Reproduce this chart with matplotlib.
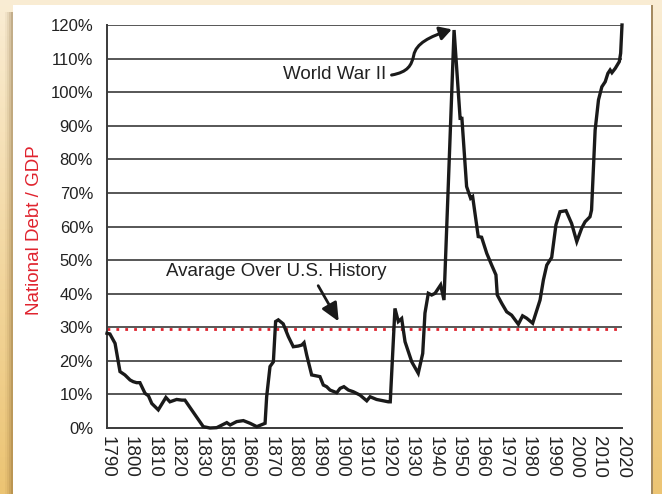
import numpy as np
import matplotlib
matplotlib.use("Agg")
import matplotlib.pyplot as plt
from matplotlib.patches import Rectangle, FancyArrowPatch
from matplotlib.path import Path

plt.rcParams['font.family'] = ['Liberation Sans', 'DejaVu Sans']

years = [1790, 1791.3, 1793.6, 1795.8, 1798, 1800.3, 1801.7, 1803.2, 1804.7, 1807,
         1808.5, 1810, 1812.9, 1816.3, 1818.1, 1821.1, 1823.4, 1824.8, 1827.8, 1833,
         1836, 1839, 1843.5, 1845, 1847.9, 1850.9, 1853.9, 1856.9, 1860.6, 1861.3,
         1862.8, 1864.3, 1865.3, 1866.5, 1868.7, 1871, 1873.2, 1875.4, 1877, 1878,
         1879.2, 1881.4, 1885.1, 1886.6, 1888.1, 1889.6, 1892.6, 1894.1, 1895.8, 1897.8,
         1900, 1903, 1906, 1907.5, 1910.4, 1913.4, 1915.6, 1916.5, 1918.6, 1920.1,
         1921.6, 1923.1, 1926.1, 1929, 1931, 1932, 1933.5, 1935, 1936.5, 1939,
         1940.5, 1942.4, 1945, 1947.7, 1948.5, 1950.6, 1952.4, 1953.3, 1955.8, 1957.3,
         1959.6, 1961.8, 1963.7, 1964.3, 1966.3, 1968.5, 1970.7, 1973.7, 1975.6, 1977.4,
         1980.1, 1983.4, 1984.9, 1986.4, 1988.6, 1990.5, 1992.3, 1995, 1997.5, 1999.8,
         2002, 2003.5, 2005.7, 2006.4, 2008, 2009.5, 2011, 2012.5, 2013.7, 2014.7,
         2015.5, 2017, 2018.8, 2019.4, 2020]
debt_pct = [28.2, 28.0, 25.2, 16.8, 15.8, 14.3, 13.8, 13.5, 13.5, 10.3,
            9.6, 7.3, 5.4, 9.1, 7.8, 8.5, 8.3, 8.3, 5.4, 0.4,
            0.0, 0.1, 1.6, 0.9, 1.9, 2.2, 1.4, 0.4, 1.4, 9.3,
            18.3, 19.7, 31.7, 32.2, 31.0, 27.2, 24.2, 24.4, 24.7, 25.4,
            21.7, 15.8, 15.3, 12.8, 12.3, 11.3, 10.5, 11.8, 12.3, 11.3,
            10.8, 9.8, 8.1, 9.3, 8.5, 8.1, 7.8, 7.8, 35.6, 31.7,
            32.6, 25.7, 19.7, 16.3, 22.2, 34.2, 40.1, 39.6, 40.1, 42.6,
            38.1, 71.9, 118.5, 92.2, 92.2, 71.9, 68.4, 68.9, 57.0, 56.8,
            52.0, 48.5, 45.6, 39.6, 37.1, 34.6, 33.6, 30.9, 33.4, 32.7,
            31.2, 38.1, 44.1, 48.5, 50.8, 60.5, 64.4, 64.7, 60.9, 55.5,
            59.5, 61.4, 62.9, 64.9, 88.7, 97.7, 101.6, 103.1, 105.6, 106.6,
            105.8, 107.1, 109.1, 111.6, 120.0]
average_pct = 29.4
x_tick_labels = ['1790', '1800', '1810', '1820', '1830', '1850', '1860', '1870',
                 '1880', '1890', '1900', '1910', '1920', '1930', '1940', '1950',
                 '1960', '1970', '1980', '1990', '2000', '2010', '2020']
y_ticks = list(range(0, 121, 10))

W, H = 662, 494
fig = plt.figure(figsize=(W / 100, H / 100), dpi=100)

# background gradient
bg = fig.add_axes([0, 0, 1, 1], zorder=-10)
t = np.linspace(0, 1, 200)[:, None]
top = np.array([250, 237, 212]) / 255
bot = np.array([236, 196, 115]) / 255
grad = top[None, None, :] * (1 - t[..., None]) + bot[None, None, :] * t[..., None]
grad = np.repeat(grad, 2, axis=1)
bg.imshow(grad, aspect='auto', extent=[0, W, 0, H], origin='upper')
for i, a in enumerate([0.05, 0.08, 0.12, 0.18]):
    bg.add_patch(Rectangle((5 + i * 2, 0), 8 - i * 2, H - 12, color='#6b4a1a', alpha=a, lw=0))
bg.add_patch(Rectangle((13, 0), 638, H - 5, facecolor='white', edgecolor='none'))
bg.add_patch(Rectangle((651, 0), 2, H - 5, facecolor='#a48a60', edgecolor='none'))
bg.set_xlim(0, W)
bg.set_ylim(0, H)
bg.axis('off')

ax = fig.add_axes([107 / W, 1 - 428 / H, (622 - 107) / W, (428 - 25) / H])
ax.set_facecolor('none')
ax.set_xlim(1790, 2020)
ax.set_ylim(0, 120)

for v in y_ticks[1:]:
    ax.axhline(v, color='#3a3a3a', lw=1.2, zorder=1)

ax.plot(years, debt_pct, color='#1a1a1a', lw=2.4, zorder=3, clip_on=False,
        solid_joinstyle='miter')
ax.axhline(average_pct, color='#e0232e', lw=2.0, ls=(0, (1, 2.2)), zorder=2)

ax.set_yticks(y_ticks)
ax.set_yticklabels([f'{v}%' for v in y_ticks])
ax.set_xticks(np.linspace(1790, 2020, len(x_tick_labels)))
ax.set_xticklabels(x_tick_labels, rotation=-90)
ax.tick_params(axis='both', length=0, colors='#222222')
ax.tick_params(axis='y', pad=10, labelsize=12)
ax.tick_params(axis='x', pad=6, labelsize=13.5)

for s in ['top', 'right']:
    ax.spines[s].set_visible(False)
for s in ['left', 'bottom']:
    ax.spines[s].set_color('#3a3a3a')
    ax.spines[s].set_linewidth(1.4)

ax.set_ylabel('National Debt / GDP', color='#e0232e', fontsize=13.5)
ax.yaxis.set_label_coords(-(107 - 43) / (622 - 107), (428 - 230) / (428 - 25))

# World War II annotation
ax.text(1891.8, 105.2, 'World War II', fontsize=13.5, ha='center', va='center', color='#222222')
verts = [(1917.1, 105.1), (1924.5, 106.0), (1926.0, 108.0), (1927.0, 111.0),
         (1928.0, 114.5), (1934.0, 116.5), (1944.0, 118.7)]
codes = [Path.MOVETO, Path.CURVE4, Path.CURVE4, Path.CURVE4, Path.CURVE4, Path.CURVE4, Path.CURVE4]
arr = FancyArrowPatch(path=Path(verts, codes), arrowstyle='-|>,head_length=7,head_width=4',
                      color='#1a1a1a', lw=2.2, zorder=4)
ax.add_patch(arr)

# Average annotation
ax.text(1865.7, 46.5, 'Avarage Over U.S. History', fontsize=13.5, ha='center', va='center',
        color='#222222')
ax.annotate('', xy=(1894.1, 31.0), xytext=(1883.7, 43.1),
            arrowprops=dict(arrowstyle='-|>,head_length=1.1,head_width=0.5',
                            color='#1a1a1a', lw=2.0))

fig.savefig('out.png', dpi=100)
